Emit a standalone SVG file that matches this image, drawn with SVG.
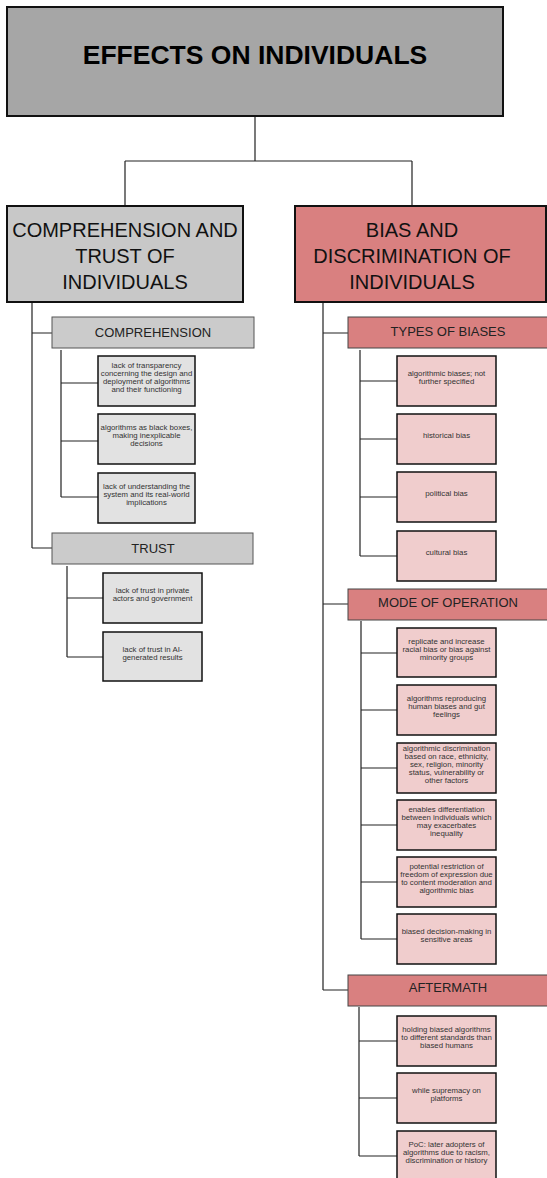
<svg xmlns="http://www.w3.org/2000/svg" width="547" height="1178" viewBox="0 0 547 1178">
  <style>
    text { font-family: "Liberation Sans", Arial, sans-serif; text-anchor: middle; }
    .root { fill: #a6a6a6; stroke: #111; stroke-width: 2; }
    .l1g { fill: #c8c8c8; stroke: #111; stroke-width: 2; }
    .l1r { fill: #d98080; stroke: #111; stroke-width: 2; }
    .l2g { fill: #cbcbcb; stroke: #555; stroke-width: 1; }
    .l2r { fill: #d98080; stroke: #444; stroke-width: 1; }
    .leafg { fill: #e2e2e2; stroke: #111; stroke-width: 1.5; }
    .leafr { fill: #f0cdcd; stroke: #111; stroke-width: 1.5; }
    .t0 { font-size: 26.5px; font-weight: bold; fill: #000; }
    .t1 { font-size: 20px; fill: #111; }
    .t2 { font-size: 13px; fill: #222; }
    .t3 { font-size: 7.8px; fill: #333; }
    .conn { fill: none; stroke: #222; stroke-width: 1.2; }
  </style>

  <!-- connectors -->
  <g id="connectors" class="conn">
    <path d="M255 116 V161 M125 161 H412 M125 161 V206 M412 161 V206"/>
    <!-- left branch -->
    <path d="M32 302 V548 M32 333 H52 M32 548 H52"/>
    <path d="M61 350 V497 M61 383 H98 M61 441 H98 M61 497 H98"/>
    <path d="M67 566 V657 M67 598 H103 M67 657 H103"/>
    <!-- right branch -->
    <path d="M323 302 V990 M323 333 H348 M323 604 H348 M323 990 H348"/>
    <path d="M360 350 V556 M360 381 H397 M360 439 H397 M360 497 H397 M360 556 H397"/>
    <path d="M361 621 V939 M361 653 H397 M361 710 H397 M361 768 H397 M361 825 H397 M361 882 H397 M361 939 H397"/>
    <path d="M359 1007 V1156 M359 1041 H397 M359 1098 H397 M359 1156 H397"/>
  </g>

  <!-- root -->
  <g id="root">
    <rect class="root" x="7" y="7" width="496" height="109"/>
    <text class="t0" x="255" y="64">EFFECTS ON INDIVIDUALS</text>
  </g>

  <!-- first level -->
  <g id="comprehension-trust">
    <rect class="l1g" x="7" y="206" width="236" height="96"/>
    <text class="t1" x="125"><tspan x="125" y="237">COMPREHENSION AND</tspan><tspan x="125" y="263">TRUST OF</tspan><tspan x="125" y="289">INDIVIDUALS</tspan></text>
  </g>
  <g id="bias-discrimination">
    <rect class="l1r" x="295" y="206" width="251" height="96"/>
    <text class="t1" x="412"><tspan x="412" y="237">BIAS AND</tspan><tspan x="412" y="263">DISCRIMINATION OF</tspan><tspan x="412" y="289">INDIVIDUALS</tspan></text>
  </g>

  <!-- second level -->
  <g id="comprehension">
    <rect class="l2g" x="52" y="317" width="202" height="31"/>
    <text class="t2" x="153" y="337">COMPREHENSION</text>
  </g>
  <g id="trust">
    <rect class="l2g" x="52" y="533" width="201" height="31"/>
    <text class="t2" x="153" y="553">TRUST</text>
  </g>
  <g id="types-of-biases">
    <rect class="l2r" x="348" y="317" width="210" height="31"/>
    <text class="t2" x="448" y="336">TYPES OF BIASES</text>
  </g>
  <g id="mode-of-operation">
    <rect class="l2r" x="348" y="589" width="210" height="31"/>
    <text class="t2" x="448" y="607">MODE OF OPERATION</text>
  </g>
  <g id="aftermath">
    <rect class="l2r" x="348" y="975" width="210" height="31"/>
    <text class="t2" x="448" y="992">AFTERMATH</text>
  </g>

  <!-- comprehension leaves -->
  <g id="lack-of-transparency">
    <rect class="leafg" x="98" y="356" width="97" height="50"/>
    <text class="t3"><tspan x="146.5" y="368">lack of transparency</tspan><tspan x="146.5" y="376">concerning the design and</tspan><tspan x="146.5" y="384">deployment of algorithms</tspan><tspan x="146.5" y="392">and their functioning</tspan></text>
  </g>
  <g id="black-boxes">
    <rect class="leafg" x="98" y="414" width="97" height="50"/>
    <text class="t3"><tspan x="146.5" y="430">algorithms as black boxes,</tspan><tspan x="146.5" y="438">making inexplicable</tspan><tspan x="146.5" y="446">decisions</tspan></text>
  </g>
  <g id="lack-of-understanding">
    <rect class="leafg" x="98" y="473" width="97" height="50"/>
    <text class="t3"><tspan x="146.5" y="489">lack of understanding the</tspan><tspan x="146.5" y="497">system and its real-world</tspan><tspan x="146.5" y="505">implications</tspan></text>
  </g>

  <!-- trust leaves -->
  <g id="trust-private-actors">
    <rect class="leafg" x="103" y="573" width="99" height="50"/>
    <text class="t3"><tspan x="152.5" y="593">lack of trust in private</tspan><tspan x="152.5" y="601">actors and government</tspan></text>
  </g>
  <g id="trust-ai-results">
    <rect class="leafg" x="103" y="632" width="99" height="49"/>
    <text class="t3"><tspan x="152.5" y="652">lack of trust in AI-</tspan><tspan x="152.5" y="660">generated results</tspan></text>
  </g>

  <!-- types of biases leaves -->
  <g id="algorithmic-biases">
    <rect class="leafr" x="397" y="356" width="99" height="50"/>
    <text class="t3"><tspan x="446.5" y="376">algorithmic biases; not</tspan><tspan x="446.5" y="384">further specified</tspan></text>
  </g>
  <g id="historical-bias">
    <rect class="leafr" x="397" y="414" width="99" height="50"/>
    <text class="t3" x="446.5" y="438">historical bias</text>
  </g>
  <g id="political-bias">
    <rect class="leafr" x="397" y="472" width="99" height="50"/>
    <text class="t3" x="446.5" y="496">political bias</text>
  </g>
  <g id="cultural-bias">
    <rect class="leafr" x="397" y="531" width="99" height="50"/>
    <text class="t3" x="446.5" y="555">cultural bias</text>
  </g>

  <!-- mode of operation leaves -->
  <g id="replicate-racial-bias">
    <rect class="leafr" x="397" y="628" width="99" height="49"/>
    <text class="t3"><tspan x="446.5" y="644">replicate and increase</tspan><tspan x="446.5" y="652">racial bias or bias against</tspan><tspan x="446.5" y="660">minority groups</tspan></text>
  </g>
  <g id="reproducing-human-biases">
    <rect class="leafr" x="397" y="685" width="99" height="50"/>
    <text class="t3"><tspan x="446.5" y="701">algorithms reproducing</tspan><tspan x="446.5" y="709">human biases and gut</tspan><tspan x="446.5" y="717">feelings</tspan></text>
  </g>
  <g id="algorithmic-discrimination">
    <rect class="leafr" x="397" y="743" width="99" height="50"/>
    <text class="t3"><tspan x="446.5" y="751">algorithmic discrimination</tspan><tspan x="446.5" y="759">based on race, ethnicity,</tspan><tspan x="446.5" y="767">sex, religion, minority</tspan><tspan x="446.5" y="775">status, vulnerability or</tspan><tspan x="446.5" y="783">other factors</tspan></text>
  </g>
  <g id="differentiation">
    <rect class="leafr" x="397" y="800" width="99" height="50"/>
    <text class="t3"><tspan x="446.5" y="812">enables differentiation</tspan><tspan x="446.5" y="820">between individuals which</tspan><tspan x="446.5" y="828">may exacerbates</tspan><tspan x="446.5" y="836">inequality</tspan></text>
  </g>
  <g id="freedom-of-expression">
    <rect class="leafr" x="397" y="857" width="99" height="50"/>
    <text class="t3"><tspan x="446.5" y="869">potential restriction of</tspan><tspan x="446.5" y="877">freedom of expression due</tspan><tspan x="446.5" y="885">to content moderation and</tspan><tspan x="446.5" y="893">algorithmic bias</tspan></text>
  </g>
  <g id="biased-decision-making">
    <rect class="leafr" x="397" y="914" width="99" height="50"/>
    <text class="t3"><tspan x="446.5" y="934">biased decision-making in</tspan><tspan x="446.5" y="942">sensitive areas</tspan></text>
  </g>

  <!-- aftermath leaves -->
  <g id="different-standards">
    <rect class="leafr" x="397" y="1016" width="99" height="50"/>
    <text class="t3"><tspan x="446.5" y="1032">holding biased algorithms</tspan><tspan x="446.5" y="1040">to different standards than</tspan><tspan x="446.5" y="1048">biased humans</tspan></text>
  </g>
  <g id="white-supremacy">
    <rect class="leafr" x="397" y="1073" width="99" height="50"/>
    <text class="t3"><tspan x="446.5" y="1093">while supremacy on</tspan><tspan x="446.5" y="1101">platforms</tspan></text>
  </g>
  <g id="later-adopters">
    <rect class="leafr" x="397" y="1131" width="99" height="50"/>
    <text class="t3"><tspan x="446.5" y="1147">PoC: later adopters of</tspan><tspan x="446.5" y="1155">algorithms due to racism,</tspan><tspan x="446.5" y="1163">discrimination or history</tspan></text>
  </g>
</svg>
